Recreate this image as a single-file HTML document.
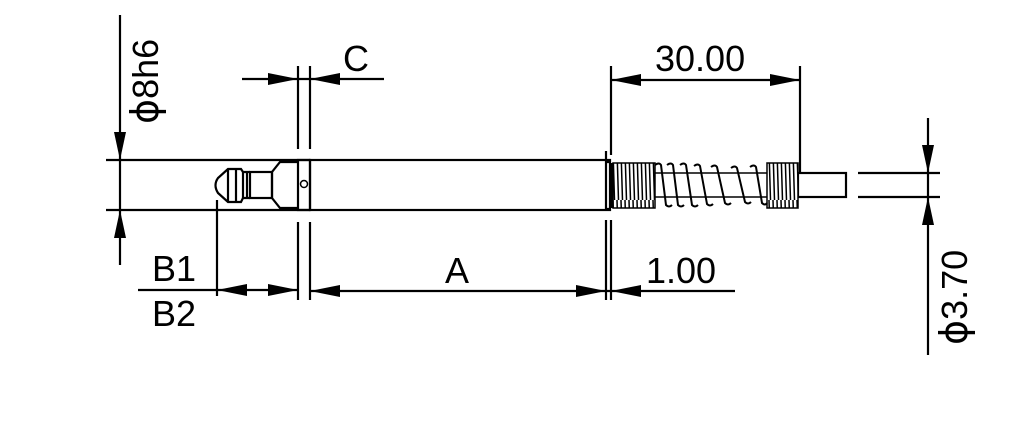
<!DOCTYPE html>
<html><head><meta charset="utf-8"><style>
html,body{margin:0;padding:0;background:#fff;}
svg{display:block}
text{font-family:"Liberation Sans","DejaVu Sans",sans-serif;font-size:36px;fill:#000}
.d{font-family:"DejaVu Sans",sans-serif;font-size:38px}
</style></head><body>
<svg width="1015" height="440" viewBox="0 0 1015 440" xmlns="http://www.w3.org/2000/svg">
<defs>
<pattern id="dense" width="4" height="50" patternUnits="userSpaceOnUse">
<rect width="4" height="50" fill="#fff"/><line x1="1" y1="0" x2="2.5" y2="50" stroke="#000" stroke-width="1.5"/>
</pattern>
</defs>
<g stroke="#000" stroke-width="2.2" fill="none">
<line x1="106" y1="160" x2="310" y2="160"/>
<line x1="106" y1="210" x2="310" y2="210"/>
<line x1="120" y1="15" x2="120" y2="265"/>
<rect x="310" y="160" width="300" height="50"/>
<rect x="298" y="160" width="12" height="50"/>
<circle cx="304" cy="184" r="3.5" stroke-width="1.5"/>
<path d="M298 162 L280 162 L272 172 L272 198 L280 208 L298 208"/>
<rect x="250" y="172" width="22" height="26"/>
<line x1="243" y1="172" x2="243" y2="198"/>
<line x1="247" y1="172" x2="247" y2="198"/>
<path d="M250 172 L243 172 L241 169 L228 169 L218 178 Q213 185 218 193 L228 202 L241 202 L243 198 L250 198"/>
<line x1="228" y1="169" x2="228" y2="202"/>
<line x1="236" y1="169" x2="236" y2="202"/>
<line x1="298" y1="66" x2="298" y2="149"/>
<line x1="310" y1="66" x2="310" y2="149"/>
<line x1="298" y1="222" x2="298" y2="300"/>
<line x1="310" y1="222" x2="310" y2="300"/>
<line x1="242" y1="79" x2="384" y2="79"/>
<line x1="611" y1="66" x2="611" y2="155"/>
<line x1="800" y1="66" x2="800" y2="172"/>
<line x1="611" y1="80" x2="800" y2="80"/>
<line x1="606" y1="220" x2="606" y2="300"/>
<line x1="611" y1="220" x2="611" y2="300"/>
<line x1="606" y1="151" x2="606" y2="160"/>
<path d="M611 162 L606 162 L606 209 L611 209"/>
<line x1="612" y1="163" x2="612" y2="208"/>
<rect x="798" y="173" width="48" height="24"/>
<line x1="858" y1="173" x2="940" y2="173"/>
<line x1="858" y1="197" x2="940" y2="197"/>
<line x1="928" y1="118" x2="928" y2="355"/>
<line x1="217" y1="200" x2="217" y2="296"/>
<line x1="138" y1="290" x2="298" y2="290"/>
<line x1="310" y1="291" x2="735" y2="291"/>
</g>
<rect x="613" y="163" width="42" height="45" fill="url(#dense)" stroke="#000" stroke-width="1.5"/>
<rect x="767" y="163" width="31" height="45" fill="url(#dense)" stroke="#000" stroke-width="1.5"/>
<g stroke="#000" stroke-width="2" fill="none">
<line x1="655" y1="173" x2="767" y2="173" stroke-width="1.5"/>
<line x1="655" y1="197" x2="767" y2="197" stroke-width="1.5"/>
<path d="M655 165 q4 -3 6 0 l5 40 q3 3 6 0 M667 165 q4 -3 6 0 l5 40 q3 3 6 0 M680 165 q4 -3 6 0 l6 40 q3 3 6 0 M694 166 q4 -3 6 0 l7 38 q3 3 6 0 M711 167 q4 -3 6 0 l8 36 q3 3 6 0 M731 168 q4 -3 6 0 l8 34 q3 3 6 0 M750 167 q4 -3 6 0 l6 36 q3 3 5 0"/>
</g>
<g fill="#000">
<polygon points="120,160 114,132 126,132"/>
<polygon points="120,210 114,238 126,238"/>
<polygon points="298,79 268,73 268,85"/>
<polygon points="310,79 340,73 340,85"/>
<polygon points="611,80 641,74 641,86"/>
<polygon points="800,80 770,74 770,86"/>
<polygon points="928,173 922,145 934,145"/>
<polygon points="928,197 922,225 934,225"/>
<polygon points="217,290 247,284 247,296"/>
<polygon points="298,290 268,284 268,296"/>
<polygon points="310,291 340,285 340,297"/>
<polygon points="606,291 576,285 576,297"/>
<polygon points="611,291 641,285 641,297"/>
</g>
<text x="343" y="71">C</text>
<text x="655" y="71">30.00</text>
<text x="445" y="283">A</text>
<text x="646" y="283">1.00</text>
<text x="152" y="281">B1</text>
<text x="152" y="326">B2</text>
<text transform="translate(158,124) rotate(-90)"><tspan class="d">ϕ</tspan>8h6</text>
<text transform="translate(967,345) rotate(-90)"><tspan class="d">ϕ</tspan>3.70</text>
</svg>
</body></html>
